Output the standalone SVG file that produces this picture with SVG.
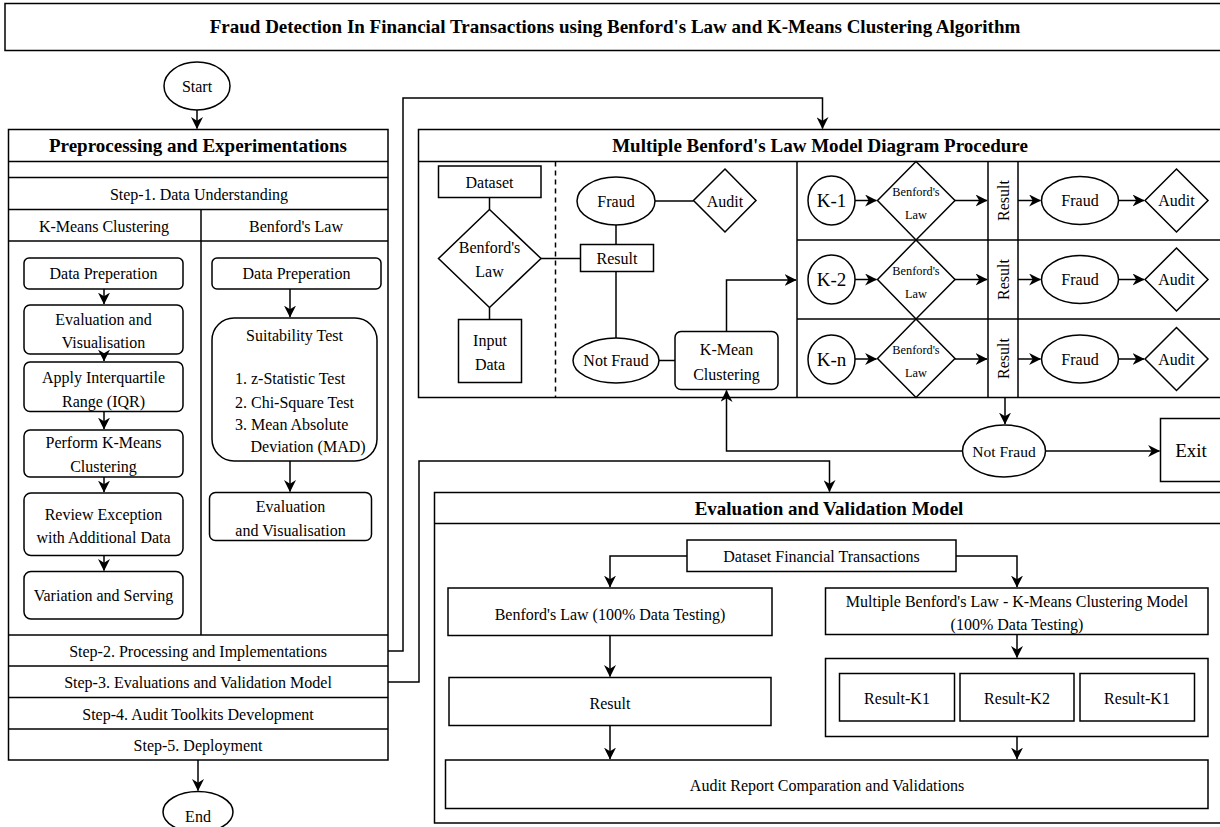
<svg xmlns="http://www.w3.org/2000/svg" width="1220" height="827" viewBox="0 0 1220 827">
<defs>
<marker id="ah" viewBox="0 0 10 10" refX="9.5" refY="5" markerWidth="12" markerHeight="12" markerUnits="userSpaceOnUse" orient="auto"><path d="M0,0 L10,5 L0,10 L3,5 z" fill="#000"/></marker>
<style>
text{font-family:"Liberation Serif","Times New Roman",serif;fill:#000;text-anchor:middle;font-size:16px;}
.b{font-weight:bold;font-size:19px;}
.s{fill:#fff;stroke:#000;stroke-width:1.5;}
.ln{fill:none;stroke:#000;stroke-width:1.5;}
.ar{fill:none;stroke:#000;stroke-width:1.5;marker-end:url(#ah);}
.st{text-anchor:start;}
.f12{font-size:12.3px;}
.k{font-size:19px;}
</style>
</defs>
<rect width="1220" height="827" fill="#fff"/>

<g id="title">
<rect x="5" y="3.5" width="1225" height="47" class="s" stroke-width="2"/>
<text x="615" y="33" class="b">Fraud Detection In Financial Transactions using Benford's Law and K-Means Clustering Algorithm</text>
</g>

<g id="start">
<ellipse cx="197" cy="86" rx="33" ry="24" class="s"/>
<text x="197" y="91.5">Start</text>
</g>

<g id="preprocessing">
<rect x="8.5" y="129.5" width="379.5" height="630.5" class="s"/>
<line x1="8.5" y1="161.5" x2="388" y2="161.5" class="ln"/>
<line x1="8.5" y1="177.5" x2="388" y2="177.5" class="ln"/>
<line x1="8.5" y1="209.5" x2="388" y2="209.5" class="ln"/>
<line x1="8.5" y1="241" x2="388" y2="241" class="ln"/>
<line x1="201" y1="209.5" x2="201" y2="635" class="ln"/>
<line x1="8.5" y1="635" x2="388" y2="635" class="ln"/>
<line x1="8.5" y1="666" x2="388" y2="666" class="ln"/>
<line x1="8.5" y1="697.5" x2="388" y2="697.5" class="ln"/>
<line x1="8.5" y1="729" x2="388" y2="729" class="ln"/>
<text x="198" y="152" class="b">Preprocessing and Experimentations</text>
<text x="199" y="200">Step-1. Data Understanding</text>
<text x="104" y="231.5">K-Means Clustering</text>
<text x="296" y="231.5">Benford's Law</text>
<text x="198" y="657">Step-2. Processing and Implementations</text>
<text x="198" y="688">Step-3. Evaluations and Validation Model</text>
<text x="198" y="719.5">Step-4. Audit Toolkits Development</text>
<text x="198" y="751">Step-5. Deployment</text>
</g>

<g id="km-dataprep"><rect x="24" y="258" width="159" height="31" rx="5" class="s"/><text x="103.5" y="279">Data Preperation</text></g>
<g id="km-eval"><rect x="24" y="305" width="159" height="49" rx="6" class="s"/><text x="103.5" y="325">Evaluation and</text><text x="103.5" y="348">Visualisation</text></g>
<g id="km-iqr"><rect x="24" y="362" width="159" height="49.5" rx="6" class="s"/><text x="103.5" y="383">Apply Interquartile</text><text x="103.5" y="407">Range (IQR)</text></g>
<g id="km-perform"><rect x="24" y="430" width="159" height="47" rx="6" class="s"/><text x="103.5" y="448">Perform K-Means</text><text x="103.5" y="472">Clustering</text></g>
<g id="km-review"><rect x="24" y="493" width="159" height="62.5" rx="7" class="s"/><text x="103.5" y="519.5">Review Exception</text><text x="103.5" y="542.5">with Additional Data</text></g>
<g id="km-variation"><rect x="24" y="571.5" width="159" height="47.5" rx="7" class="s"/><text x="103.5" y="601">Variation and Serving</text></g>

<g id="bl-dataprep"><rect x="212" y="258" width="169" height="31" rx="5" class="s"/><text x="296.5" y="279">Data Preperation</text></g>
<g id="bl-suitability"><rect x="212" y="318" width="165" height="143" rx="22" class="s"/>
<text x="294.5" y="340.5">Suitability Test</text>
<text x="235" y="383.5" class="st">1. z-Statistic Test</text>
<text x="235" y="407.5" class="st">2. Chi-Square Test</text>
<text x="235" y="429.5" class="st">3. Mean Absolute</text>
<text x="250.5" y="452" class="st">Deviation (MAD)</text>
</g>
<g id="bl-eval"><rect x="209.5" y="492.5" width="162" height="48" rx="6" class="s"/><text x="290.5" y="511.5">Evaluation</text><text x="290.5" y="535.5">and Visualisation</text></g>

<g id="end">
<ellipse cx="198" cy="812" rx="35" ry="20.5" class="s"/>
<text x="198" y="821.5">End</text>
</g>

<g id="mbl">
<rect x="418.5" y="129.5" width="810" height="268" class="s"/>
<line x1="418.5" y1="161.5" x2="1225" y2="161.5" class="ln"/>
<text x="820" y="151.5" class="b">Multiple Benford's Law Model Diagram Procedure</text>
<line x1="555.5" y1="161.5" x2="555.5" y2="397.5" class="ln" stroke-dasharray="5,4"/>
<line x1="797" y1="161.5" x2="797" y2="397.5" class="ln"/>
<line x1="797" y1="240" x2="1225" y2="240" class="ln"/>
<line x1="797" y1="319" x2="1225" y2="319" class="ln"/>
<line x1="988" y1="161.5" x2="988" y2="397.5" class="ln"/>
<line x1="1018" y1="161.5" x2="1018" y2="397.5" class="ln"/>
</g>

<g id="dataset"><rect x="438.5" y="166" width="102.5" height="31.5" class="s"/><text x="489.5" y="188">Dataset</text></g>
<g id="benford-main"><polygon points="489.5,209.5 541,258.5 489.5,307.5 438.5,258.5" class="s"/><text x="489.5" y="253">Benford's</text><text x="489.5" y="277">Law</text></g>
<g id="input-data"><rect x="458.5" y="319.5" width="63" height="63" class="s"/><text x="490" y="346">Input</text><text x="490" y="369.5">Data</text></g>
<g id="result-main"><rect x="580.5" y="244.5" width="73" height="27" class="s"/><text x="617" y="264">Result</text></g>
<g id="fraud-main"><ellipse cx="616" cy="201" rx="39" ry="24" class="s"/><text x="616" y="206.5">Fraud</text></g>
<g id="audit-main"><polygon points="725,169 756,200.5 725,232 693.5,200.5" class="s"/><text x="725" y="206.5">Audit</text></g>
<g id="notfraud-main"><ellipse cx="616" cy="360.5" rx="43" ry="22.5" class="s"/><text x="616" y="366">Not Fraud</text></g>
<g id="kmean"><rect x="675" y="331.5" width="103" height="58" rx="6" class="s"/><text x="726.5" y="355">K-Mean</text><text x="726.5" y="379.5">Clustering</text></g>

<g id="row1">
<ellipse cx="831.5" cy="200.5" rx="23.5" ry="24.5" class="s"/><text x="831.5" y="207" class="k">K-1</text>
<polygon points="916,161.5 955,200.5 916,240 877.5,200.5" class="s"/><text x="916" y="195.5" class="f12">Benford's</text><text x="916" y="219" class="f12">Law</text>
<text transform="translate(1008.5,200.5) rotate(-90)">Result</text>
<ellipse cx="1080" cy="200.5" rx="38.5" ry="24" class="s"/><text x="1080" y="206">Fraud</text>
<polygon points="1176.5,169 1208,200.5 1176.5,232 1145,200.5" class="s"/><text x="1176.5" y="206">Audit</text>
</g>
<g id="row2">
<ellipse cx="831.5" cy="279.5" rx="23.5" ry="24.5" class="s"/><text x="831.5" y="286" class="k">K-2</text>
<polygon points="916,240 955,279.5 916,319 877.5,279.5" class="s"/><text x="916" y="274.5" class="f12">Benford's</text><text x="916" y="298" class="f12">Law</text>
<text transform="translate(1008.5,279.5) rotate(-90)">Result</text>
<ellipse cx="1080" cy="279.5" rx="38.5" ry="24" class="s"/><text x="1080" y="285">Fraud</text>
<polygon points="1176.5,248 1208,279.5 1176.5,311 1145,279.5" class="s"/><text x="1176.5" y="285">Audit</text>
</g>
<g id="row3">
<ellipse cx="831.5" cy="359.5" rx="23.5" ry="24.5" class="s"/><text x="831.5" y="366" class="k">K-n</text>
<polygon points="916,319 955,358.5 916,397.5 877.5,358.5" class="s"/><text x="916" y="353.5" class="f12">Benford's</text><text x="916" y="377" class="f12">Law</text>
<text transform="translate(1008.5,358.5) rotate(-90)">Result</text>
<ellipse cx="1080" cy="359" rx="38.5" ry="24" class="s"/><text x="1080" y="364.5">Fraud</text>
<polygon points="1176.5,327.5 1208,359 1176.5,390.5 1145,359" class="s"/><text x="1176.5" y="364.5">Audit</text>
</g>

<g id="notfraud-exit"><ellipse cx="1004" cy="451" rx="41.5" ry="26" class="s"/><text x="1004" y="456.5" style="font-size:15.5px">Not Fraud</text></g>
<g id="exit"><rect x="1160.5" y="418.5" width="70" height="63" class="s"/><text x="1191" y="457" class="k">Exit</text></g>

<g id="evaluation">
<rect x="434.5" y="492.5" width="795" height="330.5" class="s"/>
<line x1="434.5" y1="523.5" x2="1225" y2="523.5" class="ln"/>
<text x="829" y="514.5" class="b">Evaluation and Validation Model</text>
</g>
<g id="ds-fin"><rect x="687" y="540" width="269" height="31.5" class="s"/><text x="821.5" y="561.5">Dataset Financial Transactions</text></g>
<g id="bl-test"><rect x="448" y="588" width="324" height="47.5" class="s"/><text x="610" y="620">Benford's Law (100% Data Testing)</text></g>
<g id="mbl-test"><rect x="825.5" y="588" width="382.5" height="46.5" class="s"/><text x="1017" y="607">Multiple Benford's Law - K-Means Clustering Model</text><text x="1017" y="630">(100% Data Testing)</text></g>
<g id="result-eval"><rect x="449" y="677.5" width="322" height="48" class="s"/><text x="610" y="708.5">Result</text></g>
<g id="results-k"><rect x="825.5" y="658.5" width="382.5" height="78" class="s"/>
<rect x="839.5" y="673.5" width="115" height="47.5" class="s"/><text x="897" y="703.5">Result-K1</text>
<rect x="960" y="673.5" width="114" height="47.5" class="s"/><text x="1017" y="703.5">Result-K2</text>
<rect x="1080" y="673.5" width="114.5" height="47.5" class="s"/><text x="1137" y="703.5">Result-K1</text>
</g>
<g id="audit-report"><rect x="445.5" y="760" width="762.5" height="48.5" class="s"/><text x="827" y="790.5">Audit Report Comparation and Validations</text></g>

<g id="connectors">
<path d="M197,110 V128.5" class="ar"/>
<path d="M104,289 V304" class="ar"/>
<path d="M104,354 V361" class="ar"/>
<path d="M104,411.5 V429" class="ar"/>
<path d="M104,477 V492" class="ar"/>
<path d="M104,555.5 V570.5" class="ar"/>
<path d="M290,289 V317" class="ar"/>
<path d="M290,461 V491.5" class="ar"/>
<path d="M198,760 V790.5" class="ar"/>
<path d="M388,651 H403 V98 H822.5 V128.5" class="ar"/>
<path d="M388,682 H419 V461 H829.5 V491.5" class="ar"/>
<path d="M489.5,197.5 V209.5" class="ln"/>
<path d="M489.5,307.5 V319.5" class="ln"/>
<path d="M541,258.5 H580.5" class="ln"/>
<path d="M655,201 H693.5" class="ln"/>
<path d="M616,225 V244.5" class="ln"/>
<path d="M616,271.5 V338" class="ln"/>
<path d="M659,360.5 H675" class="ln"/>
<path d="M726.5,331.5 V280 H796" class="ar"/>
<path d="M1005,397.5 V424" class="ar"/>
<path d="M962.5,451 H726.5 V390.5" class="ar"/>
<path d="M1045.5,451 H1159.5" class="ar"/>
<path d="M855,200.5 H876.5" class="ar"/>
<path d="M955,200.5 H987" class="ar"/>
<path d="M1018,200.5 H1040.5" class="ar"/>
<path d="M1118.5,200.5 H1144" class="ar"/>
<path d="M855,279.5 H876.5" class="ar"/>
<path d="M955,279.5 H987" class="ar"/>
<path d="M1018,279.5 H1040.5" class="ar"/>
<path d="M1118.5,279.5 H1144" class="ar"/>
<path d="M855,359 H876.5" class="ar"/>
<path d="M955,359 H987" class="ar"/>
<path d="M1018,359 H1040.5" class="ar"/>
<path d="M1118.5,359 H1144" class="ar"/>
<path d="M687,556 H610 V587" class="ar"/>
<path d="M956,556 H1017 V587" class="ar"/>
<path d="M610,635.5 V676.5" class="ar"/>
<path d="M1017,634.5 V657.5" class="ar"/>
<path d="M610,725.5 V759" class="ar"/>
<path d="M1017,736.5 V759" class="ar"/>
</g>
</svg>
